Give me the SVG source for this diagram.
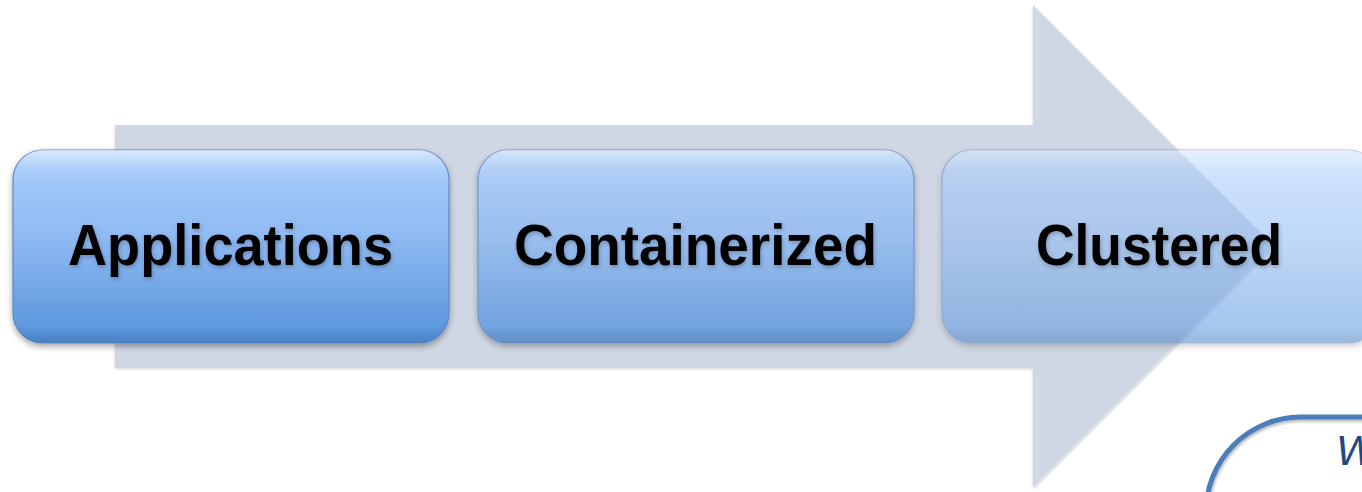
<svg xmlns="http://www.w3.org/2000/svg" width="1362" height="492" viewBox="0 0 1362 492">
  <defs>
    <linearGradient id="boxFill" x1="0" y1="0" x2="0" y2="1">
      <stop offset="0" stop-color="#a8cdfc"/>
      <stop offset="0.45" stop-color="#8fbaf2"/>
      <stop offset="1" stop-color="#5592da"/>
    </linearGradient>
    <linearGradient id="bevel" x1="0" y1="0" x2="0" y2="1">
      <stop offset="0" stop-color="#ffffff" stop-opacity="0.55"/>
      <stop offset="0.1" stop-color="#ffffff" stop-opacity="0.1"/>
      <stop offset="0.2" stop-color="#ffffff" stop-opacity="0"/>
      <stop offset="0.92" stop-color="#000000" stop-opacity="0"/>
      <stop offset="1" stop-color="#1a3d70" stop-opacity="0.18"/>
    </linearGradient>
    <filter id="boxShadow" x="-10%" y="-10%" width="120%" height="130%">
      <feDropShadow dx="0" dy="3" stdDeviation="3" flood-color="#000" flood-opacity="0.35"/>
    </filter>
    <filter id="arrowShadow" x="-5%" y="-5%" width="110%" height="110%">
      <feDropShadow dx="0" dy="2" stdDeviation="1.5" flood-color="#000" flood-opacity="0.2"/>
    </filter>
    <filter id="textShadow" x="-5%" y="-20%" width="110%" height="140%">
      <feDropShadow dx="1" dy="2" stdDeviation="2" flood-color="#000" flood-opacity="0.25"/>
    </filter>
    <filter id="lineShadow" x="-10%" y="-10%" width="120%" height="120%">
      <feDropShadow dx="1" dy="2" stdDeviation="1.5" flood-color="#000" flood-opacity="0.3"/>
    </filter>
  </defs>
  <style>
    .box { fill: url(#boxFill); stroke: #5b88c6; stroke-width: 1.2; }
    .gloss { fill: url(#bevel); stroke: none; }
    .label { font-family: "Liberation Sans", Arial, sans-serif; font-weight: bold; font-size: 58px; fill: #000; text-anchor: start; }
    .note { font-family: "Liberation Sans", Arial, sans-serif; font-style: italic; font-size: 42px; fill: #1f497d; }
  </style>

  <rect width="1362" height="492" fill="#ffffff"/>

  <!-- wide block arrow behind the process steps -->
  <g id="connectors">
    <g id="process-arrow" filter="url(#arrowShadow)">
      <path d="M115,125 L1033,125 L1033,5 L1274,246 L1033,487 L1033,367 L115,367 Z" fill="#cfd6e4" opacity="0.95"/>
    </g>
  </g>

  <!-- step 1 -->
  <g id="node-applications" filter="url(#boxShadow)">
    <rect class="box" x="13" y="150" width="436" height="193" rx="30" ry="30"/>
    <rect class="gloss" x="13" y="150" width="436" height="193" rx="30" ry="30"/>
    <text class="label" x="68" y="265" textLength="325" lengthAdjust="spacingAndGlyphs" filter="url(#textShadow)">Applications</text>
  </g>

  <!-- step 2 -->
  <g id="node-containerized">
    <g filter="url(#boxShadow)" opacity="0.82">
      <rect class="box" x="478" y="150" width="436" height="193" rx="30" ry="30"/>
      <rect class="gloss" x="478" y="150" width="436" height="193" rx="30" ry="30"/>
    </g>
    <text class="label" x="514" y="265" textLength="363" lengthAdjust="spacingAndGlyphs" filter="url(#textShadow)">Containerized</text>
  </g>

  <!-- step 3 -->
  <g id="node-clustered">
    <g filter="url(#boxShadow)" opacity="0.55">
      <rect class="box" x="942" y="150" width="436" height="193" rx="30" ry="30"/>
      <rect class="gloss" x="942" y="150" width="436" height="193" rx="30" ry="30"/>
    </g>
    <text class="label" x="1036" y="265" textLength="246" lengthAdjust="spacingAndGlyphs" filter="url(#textShadow)">Clustered</text>
  </g>

  <!-- outlined callout in the lower right corner -->
  <g id="node-callout">
    <path d="M1206,520 L1206,512 A95,95 0 0 1 1300,417 L1380,417" fill="none" stroke="#4a7ebb" stroke-width="5" filter="url(#lineShadow)"/>
    <text class="note" x="1336" y="465">W</text>
  </g>
</svg>
